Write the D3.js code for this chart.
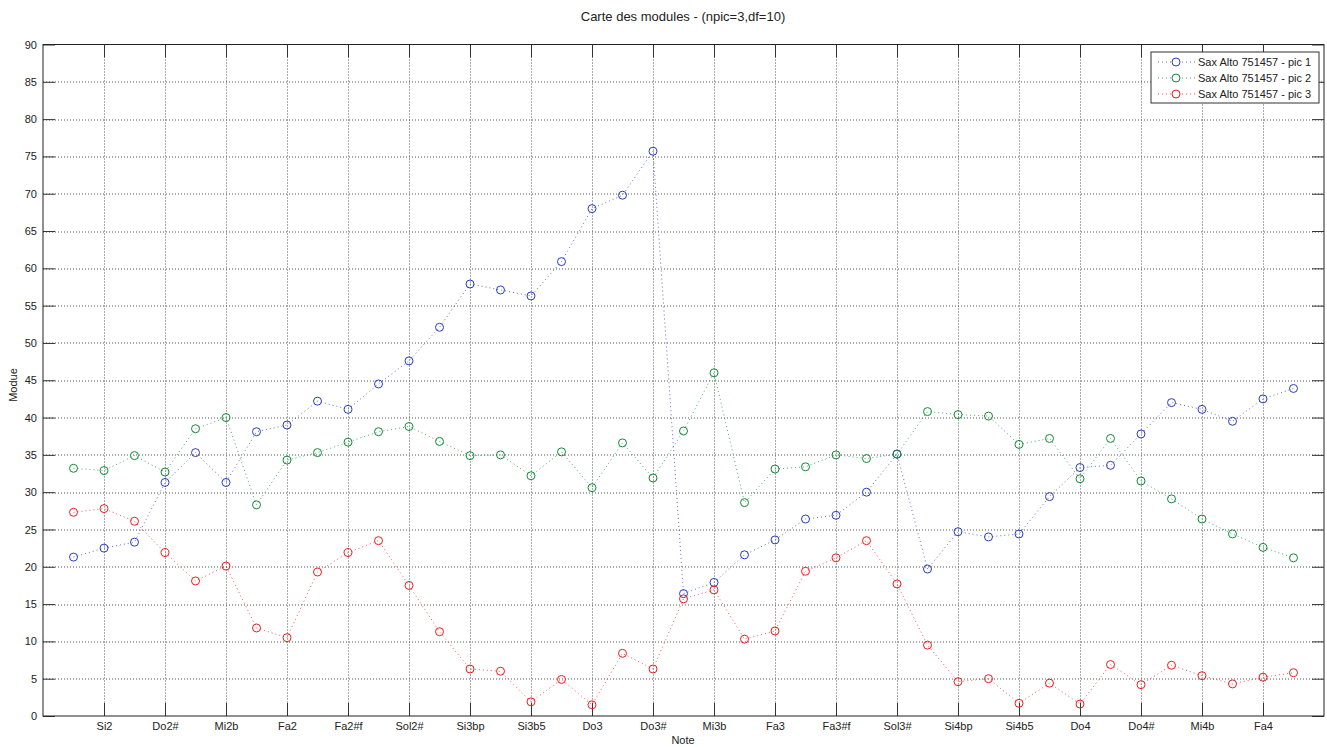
<!DOCTYPE html>
<html>
<head>
<meta charset="utf-8">
<script src="https://cdn.jsdelivr.net/npm/d3@7"></script>
<style>
  body { margin: 0; background: #fff; }
  svg { font-family: "Liberation Sans", Arial, sans-serif; }
  .axis path { display: none; }
  .axis line { stroke: #333; }
  .axis text { fill: #222; font-size: 11px; }
</style>
</head>
<body>
<div id="chart"></div>
<script>
// tick labels (every second note)
const noteTicks = ["Si2", "Do2#", "Mi2b", "Fa2", "Fa2#f", "Sol2#", "Si3bp", "Si3b5", "Do3", "Do3#",
  "Mi3b", "Fa3", "Fa3#f", "Sol3#", "Si4bp", "Si4b5", "Do4", "Do4#", "Mi4b", "Fa4"];
const yTicks = d3.range(0, 91, 5);

// modules per note index 1..41
const pic1 = [21.3, 22.5, 23.3, 31.3, 35.3, 31.3, 38.1, 39.0, 42.2, 41.1,
  44.5, 47.6, 52.1, 57.9, 57.1, 56.3, 60.9, 68.0, 69.8, 75.7,
  16.4, 17.9, 21.6, 23.6, 26.4, 26.9, 30.0, 35.1, 19.7, 24.7,
  24.0, 24.4, 29.4, 33.3, 33.6, 37.8, 42.0, 41.1, 39.5, 42.5, 43.9];
const pic2 = [33.2, 32.9, 34.9, 32.7, 38.5, 40.0, 28.3, 34.3, 35.3, 36.7,
  38.1, 38.8, 36.8, 34.9, 35.0, 32.2, 35.4, 30.6, 36.6, 31.9,
  38.2, 46.0, 28.6, 33.1, 33.4, 35.0, 34.5, 35.1, 40.8, 40.4,
  40.2, 36.4, 37.2, 31.8, 37.2, 31.5, 29.1, 26.4, 24.4, 22.6, 21.2];
const pic3 = [27.3, 27.8, 26.1, 21.9, 18.1, 20.1, 11.8, 10.5, 19.3, 21.9,
  23.5, 17.5, 11.3, 6.3, 6.0, 1.9, 4.9, 1.5, 8.4, 6.3,
  15.7, 16.9, 10.3, 11.4, 19.4, 21.2, 23.5, 17.7, 9.5, 4.6,
  5.0, 1.7, 4.4, 1.6, 6.9, 4.2, 6.8, 5.4, 4.3, 5.2, 5.8];

const seriesNames = ["Sax Alto 751457 - pic 1", "Sax Alto 751457 - pic 2", "Sax Alto 751457 - pic 3"];
const seriesColors = ["#2a3cc0", "#108a3a", "#ee1c1c"];
const seriesData = [pic1, pic2, pic3];

const width = 1327, height = 747;
const margin = { top: 44.5, right: 3, bottom: 31, left: 43 };
const w = width - margin.left - margin.right;
const h = height - margin.top - margin.bottom;

const svg = d3.select("#chart").append("svg")
  .attr("width", width).attr("height", height);

const g = svg.append("g")
  .attr("transform", `translate(${margin.left},${margin.top})`);

const x = d3.scaleLinear().domain([0, 42]).range([0, w]);
const y = d3.scaleLinear().domain([0, 90]).range([h, 0]);
const xTickVals = noteTicks.map((d, i) => 2 * (i + 1));

// grid
g.append("g").selectAll("line").data(yTicks.slice(1, -1)).enter().append("line")
  .attr("x1", 0).attr("x2", w)
  .attr("y1", d => Math.round(y(d)) + 0.5).attr("y2", d => Math.round(y(d)) + 0.5)
  .attr("stroke", "#555").attr("stroke-dasharray", "1,2");
g.append("g").selectAll("line").data(xTickVals).enter().append("line")
  .attr("y1", 0).attr("y2", h)
  .attr("x1", d => Math.round(x(d)) + 0.5).attr("x2", d => Math.round(x(d)) + 0.5)
  .attr("stroke", "#555").attr("stroke-dasharray", "1,2");

// axes (ticks point inward, mirrored on top/right)
g.append("g").attr("class", "axis")
  .call(d3.axisLeft(y).tickValues(yTicks).tickSizeInner(-12).tickPadding(6));
g.append("g").attr("class", "axis").attr("transform", `translate(${w},0)`)
  .call(d3.axisRight(y).tickValues(yTicks).tickSizeInner(-12).tickFormat(""));
g.append("g").attr("class", "axis").attr("transform", `translate(0,${h})`)
  .call(d3.axisBottom(x).tickValues(xTickVals).tickSizeInner(-13).tickPadding(6)
    .tickFormat((d, i) => noteTicks[i]));
g.append("g").attr("class", "axis")
  .call(d3.axisTop(x).tickValues(xTickVals).tickSizeInner(-13).tickFormat(""));

g.append("rect").attr("width", w).attr("height", h)
  .attr("fill", "none").attr("stroke", "#222").attr("stroke-width", 1);

// series
const line = d3.line().x((d, i) => x(i + 1)).y(d => y(d));
seriesData.forEach((vals, s) => {
  g.append("path").datum(vals)
    .attr("d", line).attr("fill", "none")
    .attr("stroke", seriesColors[s]).attr("stroke-opacity", 0.75)
    .attr("stroke-dasharray", "1,3");
  g.append("g").selectAll("circle").data(vals).enter().append("circle")
    .attr("cx", (d, i) => x(i + 1)).attr("cy", d => y(d)).attr("r", 4)
    .attr("fill", "none").attr("stroke", seriesColors[s]).attr("stroke-width", 1);
});

// labels
svg.append("text").attr("x", 683).attr("y", 21).attr("text-anchor", "middle")
  .attr("font-size", 13).attr("fill", "#222").text("Carte des modules - (npic=3,df=10)");
svg.append("text").attr("x", 683).attr("y", 744).attr("text-anchor", "middle")
  .attr("font-size", 11).attr("fill", "#222").text("Note");
svg.append("text").attr("transform", "translate(17,385) rotate(-90)").attr("text-anchor", "middle")
  .attr("font-size", 11).attr("fill", "#222").text("Modue");

// legend
const leg = svg.append("g").attr("transform", "translate(1151,52)");
leg.append("rect").attr("width", 168).attr("height", 51)
  .attr("fill", "#fff").attr("stroke", "#333");
seriesNames.forEach((name, s) => {
  const ly = 10 + s * 16;
  leg.append("line").attr("x1", 7).attr("x2", 44).attr("y1", ly).attr("y2", ly)
    .attr("stroke", seriesColors[s]).attr("stroke-opacity", 0.75).attr("stroke-dasharray", "1,3");
  leg.append("circle").attr("cx", 25).attr("cy", ly).attr("r", 4)
    .attr("fill", "#fff").attr("stroke", seriesColors[s]);
  leg.append("text").attr("x", 47).attr("y", ly + 4)
    .attr("font-size", 11).attr("fill", "#222").text(name);
});
</script>
</body>
</html>
